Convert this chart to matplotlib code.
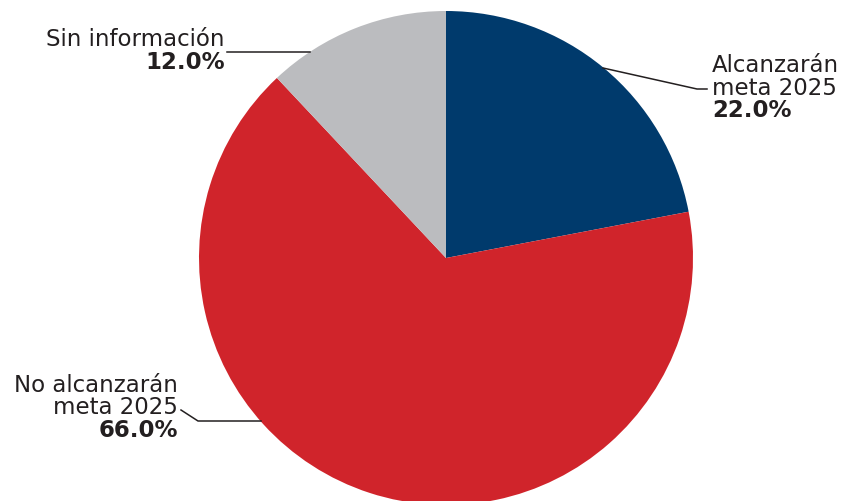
import matplotlib
matplotlib.use('Agg')
import matplotlib.pyplot as plt

# data
labels = ['Alcanzarán\nmeta 2025', 'No alcanzarán\nmeta 2025', 'Sin información']
values = [22.0, 66.0, 12.0]
colors = ['#003A6C', '#D0242B', '#BBBCBF']

W, H = 847, 501
fig = plt.figure(figsize=(W / 100, H / 100), dpi=100)
ax = fig.add_axes([0, 0, 1, 1])

cx, cy, r = 446, H - 258, 247
ax.pie(values, colors=colors, startangle=90, counterclock=False,
       center=(cx, cy), radius=r, frame=True,
       wedgeprops=dict(linewidth=0))
ax.set_xlim(0, W)
ax.set_ylim(0, H)
ax.set_aspect('equal')
ax.axis('off')

txt = '#231F20'
fs = 16.5

# label layout (pixel positions, y measured from top)
def label(x, y_base, text, pct, ha):
    lines = text.split('\n')
    for i, ln in enumerate(lines):
        ax.text(x, H - (y_base + i * 22.5), ln, ha=ha, va='baseline',
                fontsize=fs, color=txt, family='DejaVu Sans')
    ax.text(x, H - (y_base + len(lines) * 22.5), f'{pct:.1f}%', ha=ha,
            va='baseline', fontsize=fs, color=txt, fontweight='bold',
            family='DejaVu Sans')

def leader(pts):
    xs = [p[0] for p in pts]
    ys = [H - p[1] for p in pts]
    ax.plot(xs, ys, color='#231F20', lw=1.1)

label(712, 72, labels[0], values[0], 'left')
leader([(603, 68), (697, 89), (707, 89)])

label(178, 392, labels[1], values[1], 'right')
leader([(181, 410), (198, 421), (261, 421)])

label(225, 46, labels[2], values[2], 'right')
leader([(227, 52), (310, 52)])

fig.savefig('out.png', dpi=100)
